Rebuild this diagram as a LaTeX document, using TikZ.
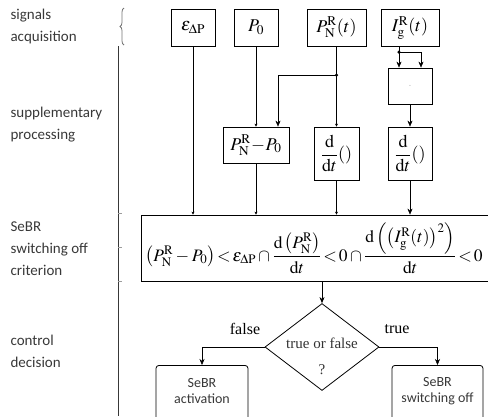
\documentclass[tikz,border=0pt]{standalone}
\usepackage{amsmath}
\usepackage{mathptmx}
\usepackage{fontspec}
\setmainfont{Liberation Serif}
\newfontfamily\labfont{Carlito}
\usetikzlibrary{shapes.geometric,arrows.meta,decorations.pathreplacing}
\definecolor{labgray}{HTML}{383838}
\begin{document}
\begin{tikzpicture}[x=1pt,y=-1pt,
  blk/.style={draw,thick,inner sep=0pt,anchor=center,font=\fontsize{18}{20}\selectfont},
  arr/.style={-{Stealth[length=6pt,width=5pt]}},
  sarr/.style={-{Stealth[length=3pt,width=3pt]}},
  lab/.style={anchor=west,align=left,text=labgray,font=\labfont\fontsize{15}{22}\selectfont},
  endbox/.style={draw,thick,rounded corners=3pt,inner sep=0pt,anchor=north},
  endtxt/.style={align=center,font=\labfont\fontsize{14}{16.5}\selectfont,text=labgray},
  dectxt/.style={font=\fontsize{15}{17}\selectfont,text=black!80},
  dot/.style={circle,fill,inner sep=0pt,minimum size=3.5pt}]
\useasboundingbox (0,0) rectangle (488,416);
% left labels
\node[lab] (l1) at (7,26) {signals\\acquisition};
\node[lab] (l2) at (7,125) {supplementary\\processing};
\node[lab] (l3) at (7,249) {SeBR\\switching off\\criterion};
\node[lab] (l4) at (7,351) {control\\decision};
\draw[labgray,thin] (118,46) -- (118,416);
\draw[labgray!70,thick,decorate,decoration={brace,amplitude=4pt,mirror}] (124,8) -- (124,45);
\foreach \yy in {213,247,281} \draw[labgray!50] (118,\yy) -- (122,\yy);
% top boxes
\node[blk,minimum width=44pt,minimum height=37pt] (eps) at (193,27.5) {$\varepsilon_{\Delta\mathrm{P}}$};
\node[blk,minimum width=44pt,minimum height=37pt] (p0) at (256,27.5) {$P_0$};
\node[blk,minimum width=59pt,minimum height=37pt] (pn) at (336.5,27.5) {$P_{\mathrm{N}}^{\mathrm{R}}(t)$};
\node[blk,minimum width=58pt,minimum height=37pt] (ig) at (410,27.5) {$I_{\mathrm{g}}^{\mathrm{R}}(t)$};
% processing
\node[blk,minimum width=44pt,minimum height=36pt] (mul) at (410,86) {\scriptsize$\cdot$};
\node[blk,minimum width=66pt,minimum height=36pt] (diff) at (256,145) {$P_{\mathrm{N}}^{\mathrm{R}}\!-\!P_0$};
\node[blk,minimum width=45pt,minimum height=53pt] (dd1) at (336.5,153.5) {$\dfrac{\mathrm{d}}{\mathrm{d}t}()$};
\node[blk,minimum width=44pt,minimum height=53pt] (dd2) at (410,153.5) {$\dfrac{\mathrm{d}}{\mathrm{d}t}()$};
% criterion
\node[blk,minimum width=352pt,minimum height=66pt] (crit) at (317,248) {};
\node[font=\fontsize{17.5}{20}\selectfont] (critt) at (314,248)
 {$\left(P_{\mathrm{N}}^{\mathrm{R}}-P_0\right)\!<\!\varepsilon_{\Delta\mathrm{P}}\cap\dfrac{\mathrm{d}\left(P_{\mathrm{N}}^{\mathrm{R}}\right)}{\mathrm{d}t}\!<\!0\cap\dfrac{\mathrm{d}\left(\left(I_{\mathrm{g}}^{\mathrm{R}}(t)\right)^{2}\right)}{\mathrm{d}t}\!<\!0$};
% decision
\node[draw,thick,diamond,inner sep=0pt,minimum width=114pt,minimum height=87pt,aspect=1.31] (dec) at (322,347) {};
\node[dectxt] (dect) at (322,343) {true or false};
\node[dectxt] (decq) at (322,370) {?};
\node[endbox,minimum width=92pt,minimum height=60pt] (act) at (202,365) {};
\node[endbox,minimum width=91pt,minimum height=60pt] (off) at (437.5,365) {};
\node[endtxt] (actt) at (202,391) {SeBR\\activation};
\node[endtxt] (offt) at (437.5,391) {SeBR\\switching off};
\node[font=\fontsize{16}{18}\selectfont] (fl) at (245,329) {false};
\node[font=\fontsize{16}{18}\selectfont] (tr) at (397,329) {true};
% connectors
\coordinate (j1) at (336.5,75);
\coordinate (j1l) at (278,75);
\coordinate (j2) at (399,52);
\coordinate (j2r) at (421,52);
\draw[sarr] (eps.south) -- (eps.south |- crit.north);
\draw[sarr] (p0.south) -- (diff.north);
\draw[sarr] (diff.south) -- (diff.south |- crit.north);
\draw[sarr] (pn.south) -- (dd1.north);
\draw[arr] (j1) -- (j1l) -- (j1l |- diff.north);
\node[dot] (d1) at (j1) {};
\draw[sarr] (dd1.south) -- (dd1.south |- crit.north);
\draw (ig.south -| j2) -- (j2) -- (j2r);
\draw[arr] (j2) -- (j2 |- mul.north);
\draw[arr] (j2r) -- (j2r |- mul.north);
\node[dot] (d2) at (j2) {};
\draw[arr] (mul.south) -- (dd2.north);
\draw[arr] (dd2.south) -- (dd2.south |- crit.north);
\draw[arr] (crit.south -| dec.north) -- (dec.north);
\draw[arr] (dec.west) -- (dec.west -| act.north) -- (act.north);
\draw[arr] (dec.east) -- (dec.east -| off.north) -- (off.north);
\end{tikzpicture}
\end{document}
